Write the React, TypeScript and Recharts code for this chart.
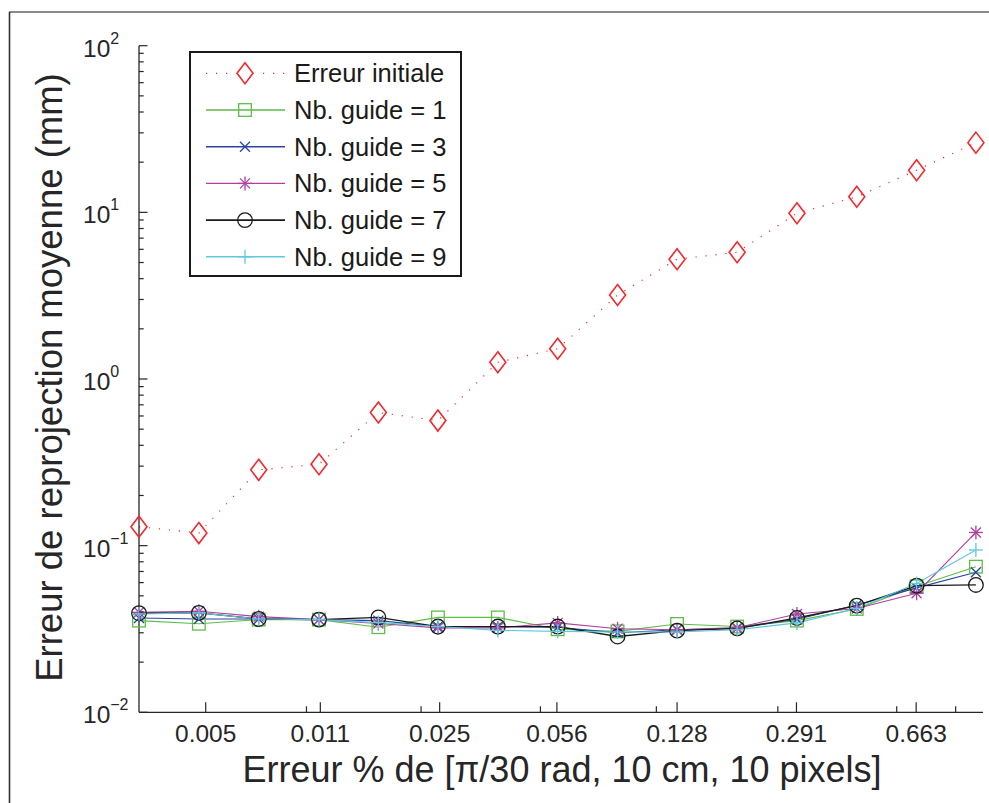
import React from "react";
import { LineChart, Line, XAxis, YAxis } from "recharts";

const W = 989;
const H = 803;
const FONT = '"Liberation Sans", Arial, Helvetica, sans-serif';
const INK = "#262626";

// x positions of the 15 measurements (log axis)
const xValues = [0.00316, 0.00477, 0.0072, 0.0109, 0.0164, 0.0247, 0.0373, 0.0563, 0.085, 0.128, 0.1935, 0.292, 0.4406, 0.665, 1.0];

const erreurInitiale = [0.13, 0.119, 0.285, 0.308, 0.629, 0.563, 1.26, 1.52, 3.19, 5.23, 5.76, 9.88, 12.4, 17.9, 26.2];
const guide1 = [0.0355, 0.034, 0.036, 0.036, 0.0324, 0.0371, 0.0371, 0.0315, 0.0306, 0.0339, 0.0327, 0.0355, 0.0417, 0.057, 0.0748];
const guide3 = [0.0368, 0.0363, 0.0363, 0.036, 0.0355, 0.0327, 0.0327, 0.0324, 0.03, 0.0313, 0.0319, 0.0362, 0.044, 0.0558, 0.0692];
const guide5 = [0.0398, 0.0404, 0.0375, 0.036, 0.0341, 0.0321, 0.0321, 0.0344, 0.0317, 0.0313, 0.0322, 0.0389, 0.042, 0.0518, 0.12];
const guide7 = [0.0393, 0.0395, 0.0363, 0.036, 0.0371, 0.0327, 0.0327, 0.0327, 0.0285, 0.0309, 0.0319, 0.0368, 0.0436, 0.0575, 0.0581];
const guide9 = [0.0389, 0.0395, 0.0363, 0.036, 0.0345, 0.0327, 0.031, 0.0306, 0.0303, 0.0303, 0.0313, 0.0344, 0.042, 0.0592, 0.0942];

const xTicksMajor = [0.005, 0.011, 0.025, 0.056, 0.128, 0.291, 0.663];
const xTicksMinor = [0.01, 0.022, 0.05, 0.111, 0.256, 0.58, 0.87];
const yDecades = [0.01, 0.1, 1, 10, 100];
const yMinorSteps = [2, 3, 4, 5, 6, 7, 8, 9];

const xTicks = [...xTicksMajor, ...xTicksMinor].sort((a, b) => a - b);
const yTicks = [
  ...yDecades,
  ...yDecades.slice(0, -1).flatMap((d) => yMinorSteps.map((m) => +(d * m).toPrecision(3))),
].sort((a, b) => a - b);

const data = xValues.map((x, i) => ({
  x,
  init: erreurInitiale[i],
  g1: guide1[i],
  g3: guide3[i],
  g5: guide5[i],
  g7: guide7[i],
  g9: guide9[i],
}));

type Shape = "diamond" | "square" | "x" | "star" | "circle" | "plus";

const series: { key: string; name: string; color: string; shape: Shape; dash?: string; width: number }[] = [
  { key: "init", name: "Erreur initiale", color: "#ee2a2f", shape: "diamond", dash: "1.2 8.8", width: 1.2 },
  { key: "g1", name: "Nb. guide = 1", color: "#5dbd47", shape: "square", width: 1.1 },
  { key: "g3", name: "Nb. guide = 3", color: "#2a44a0", shape: "x", width: 1.1 },
  { key: "g5", name: "Nb. guide = 5", color: "#b0409f", shape: "star", width: 1.1 },
  { key: "g7", name: "Nb. guide = 7", color: "#1a1a1a", shape: "circle", width: 1.3 },
  { key: "g9", name: "Nb. guide = 9", color: "#5ec8de", shape: "plus", width: 1.1 },
];

// plot box (pixels) and axis band sizes
const PLOT_LEFT = 139;
const PLOT_TOP = 45.7;
const PLOT_BOTTOM = 712.3;
const Y_AXIS_W = 60;
const X_AXIS_H = 40;

function Marker({ shape, cx, cy, color }: { shape: Shape; cx: number; cy: number; color: string }) {
  const sw = 1.3;
  switch (shape) {
    case "diamond":
      return (
        <path
          d={`M${cx},${cy - 10.5} L${cx + 8},${cy} L${cx},${cy + 10.5} L${cx - 8},${cy} Z`}
          fill="none"
          stroke={color}
          strokeWidth={1.6}
        />
      );
    case "square":
      return <rect x={cx - 6.3} y={cy - 6.3} width={12.6} height={12.6} fill="none" stroke={color} strokeWidth={sw} />;
    case "circle":
      return <circle cx={cx} cy={cy} r={7.3} fill="none" stroke={color} strokeWidth={sw} />;
    case "x":
      return (
        <g stroke={color} strokeWidth={sw}>
          <line x1={cx - 5} y1={cy - 5} x2={cx + 5} y2={cy + 5} />
          <line x1={cx - 5} y1={cy + 5} x2={cx + 5} y2={cy - 5} />
        </g>
      );
    case "plus":
      return (
        <g stroke={color} strokeWidth={sw}>
          <line x1={cx - 7} y1={cy} x2={cx + 7} y2={cy} />
          <line x1={cx} y1={cy - 7} x2={cx} y2={cy + 7} />
        </g>
      );
    case "star":
      return (
        <g stroke={color} strokeWidth={sw}>
          <line x1={cx - 7} y1={cy} x2={cx + 7} y2={cy} />
          <line x1={cx} y1={cy - 7} x2={cx} y2={cy + 7} />
          <line x1={cx - 5} y1={cy - 5} x2={cx + 5} y2={cy + 5} />
          <line x1={cx - 5} y1={cy + 5} x2={cx + 5} y2={cy - 5} />
        </g>
      );
  }
}

const makeDot = (shape: Shape, color: string) => (p: any) => {
  if (p.cx == null || p.cy == null) return <g key={p.index} />;
  return (
    <g key={`${shape}-${p.index}`}>
      <Marker shape={shape} cx={p.cx} cy={p.cy} color={color} />
    </g>
  );
};

const XTick = (props: any) => {
  const { x, y, payload } = props;
  const major = xTicksMajor.includes(payload.value);
  return (
    <g>
      <line x1={x} x2={x} y1={y} y2={y - (major ? 10 : 6)} stroke={INK} strokeWidth={1.2} />
      {major && (
        <text x={x} y={y + 30} textAnchor="middle" fontSize={24.5} fill={INK} fontFamily={FONT}>
          {String(payload.value)}
        </text>
      )}
    </g>
  );
};

const YTick = (props: any) => {
  const { x, y, payload } = props;
  const lg = Math.log10(payload.value);
  const exp = Math.round(lg);
  const major = Math.abs(lg - exp) < 1e-6;
  return (
    <g>
      <line x1={x} x2={x + (major ? 8.5 : 4.7)} y1={y} y2={y} stroke={INK} strokeWidth={1.2} />
      {major && (
        <text x={x - 56} y={y + 11} fontSize={24.5} fill={INK} fontFamily={FONT}>
          10
          <tspan dy={-13} fontSize={16}>
            {exp < 0 ? "\u2212" + -exp : String(exp)}
          </tspan>
        </text>
      )}
    </g>
  );
};

function LegendBox() {
  const rowY = (i: number) => 20.3 + i * 36.7;
  return (
    <div
      style={{
        position: "absolute",
        left: 189,
        top: 51,
        width: 273,
        height: 226,
        border: "2px solid #1a1a1a",
        boxSizing: "border-box",
        background: "#fff",
      }}
    >
      <svg width={269} height={222} style={{ display: "block" }}>
        {series.map((s, i) => {
          const cy = rowY(i);
          return (
            <g key={s.key}>
              {s.dash ? (
                <g stroke={s.color} strokeWidth={s.width} strokeDasharray={s.dash}>
                  <line x1={15} x2={44} y1={cy} y2={cy} />
                  <line x1={72} x2={95} y1={cy} y2={cy} />
                </g>
              ) : (
                <line x1={15} x2={94} y1={cy} y2={cy} stroke={s.color} strokeWidth={s.width + 0.3} />
              )}
              <Marker shape={s.shape} cx={54} cy={cy} color={s.color} />
              <text x={103} y={cy + 9} fontSize={25.5} fill="#1a1a1a" fontFamily={FONT}>
                {s.name}
              </text>
            </g>
          );
        })}
      </svg>
    </div>
  );
}

export default function App() {
  return (
    <div style={{ position: "absolute", left: 0, top: 0, width: W, height: H, background: "#fff", overflow: "hidden" }}>
      <svg width={W} height={H} style={{ position: "absolute", left: 0, top: 0 }}>
        <line x1={9} x2={W} y1={12} y2={12} stroke="#8a8a8a" strokeWidth={2.2} />
        <line x1={9.5} x2={9.5} y1={12} y2={H} stroke="#333" strokeWidth={1.6} />
        <text x={562} y={782} textAnchor="middle" fontSize={36} fill={INK} fontFamily={FONT}>
          Erreur % de [π/30 rad, 10 cm, 10 pixels]
        </text>
        <text
          x={62}
          y={377.5}
          transform="rotate(-90 62 377.5)"
          textAnchor="middle"
          fontSize={36.5}
          fill={INK}
          fontFamily={FONT}
        >
          Erreur de reprojection moyenne (mm)
        </text>
      </svg>
      <div style={{ position: "absolute", left: 0, top: 0 }}>
        <LineChart
          width={W}
          height={H}
          data={data}
          margin={{
            top: PLOT_TOP,
            right: 6,
            bottom: H - PLOT_BOTTOM - X_AXIS_H,
            left: PLOT_LEFT - Y_AXIS_W,
          }}
        >
          <XAxis
            dataKey="x"
            type="number"
            scale="log"
            domain={[0.00316, 1.05]}
            ticks={xTicks}
            interval={0}
            height={X_AXIS_H}
            tickSize={0}
            tickMargin={0}
            tickLine={false}
            tick={<XTick />}
            axisLine={{ stroke: INK, strokeWidth: 1.3 }}
          />
          <YAxis
            type="number"
            scale="log"
            domain={[0.01, 100]}
            ticks={yTicks}
            interval={0}
            width={Y_AXIS_W}
            tickSize={0}
            tickMargin={0}
            tickLine={false}
            tick={<YTick />}
            axisLine={{ stroke: INK, strokeWidth: 1.3 }}
          />
          {series.map((s) => (
            <Line
              key={s.key}
              dataKey={s.key}
              name={s.name}
              type="linear"
              stroke={s.color}
              strokeWidth={s.width}
              strokeDasharray={s.dash}
              dot={makeDot(s.shape, s.color)}
              activeDot={false}
              isAnimationActive={false}
            />
          ))}
        </LineChart>
      </div>
      <LegendBox />
    </div>
  );
}
